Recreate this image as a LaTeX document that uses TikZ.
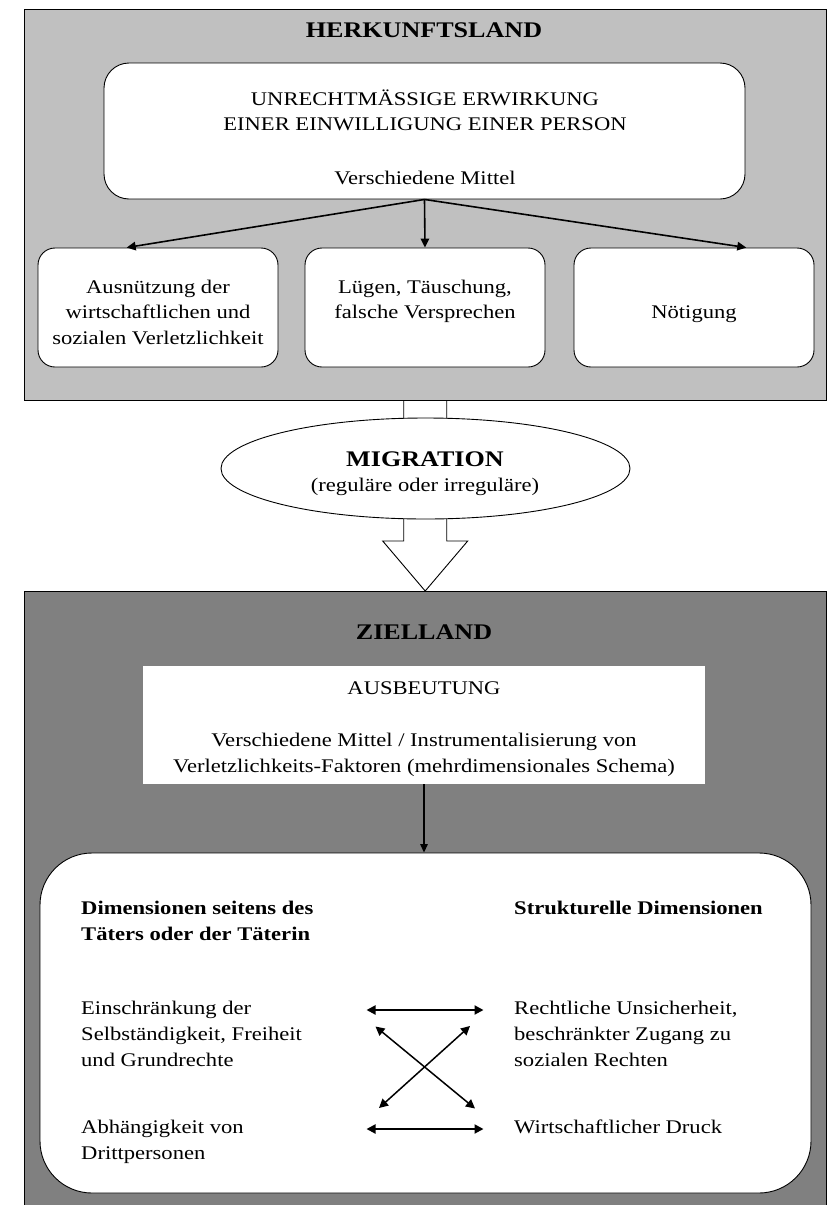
\documentclass[tikz,border=0pt]{standalone}
\usepackage{fontspec}
\setmainfont{Liberation Serif}[FakeStretch=1.17]
\usetikzlibrary{arrows.meta,calc,shapes.geometric}

\definecolor{topgray}{RGB}{192,192,192}
\definecolor{lowgray}{RGB}{128,128,128}

% stacked lines aligned on the baseline of the first line
\newcommand\lns[2][c]{\begin{tabular}[t]{@{}#1@{}}#2\end{tabular}}
\newcommand\txtsize{\fontsize{19.3}{25.5}\selectfont}
\newcommand\ttlsize{\fontsize{22.3}{26}\selectfont}

\begin{document}
\begin{tikzpicture}[x=1pt,y=-1pt,
  panel/.style={draw=black, line width=0.9pt, anchor=north west, inner sep=0pt},
  card/.style={draw=black, fill=white, line width=0.9pt, inner sep=0pt},
  txt/.style={inner sep=0pt, anchor=base, font=\txtsize},
  ttl/.style={inner sep=0pt, anchor=base, font=\ttlsize\bfseries},
  lefttxt/.style={txt, anchor=base west},
  oneway/.style={line width=1.6pt, -{Triangle[length=9pt,width=8.5pt]}},
  thinway/.style={line width=1.3pt, -{Triangle[length=8.5pt,width=7.5pt]}},
  twoway/.style={{Triangle[length=9pt,width=9pt]}-{Triangle[length=9pt,width=9pt]}}]

\useasboundingbox (0,0) rectangle (827,1205);

% ---------- country of origin ----------
\node[panel, fill=topgray, minimum width=802.5pt, minimum height=390.5pt] (herkunft) at (23.5,9) {};
\node[ttl] (herkunfttitle) at (424,37.5) {HERKUNFTSLAND};

\node[card, rounded corners=25pt, minimum width=641pt, minimum height=136pt] (unrecht) at (424.5,131) {};
\node[txt, font=\fontsize{19.3}{24.3}\selectfont] (unrechttext) at (425,105.7)
  {\lns{UNRECHTMÄSSIGE ERWIRKUNG\\EINER EINWILLIGUNG EINER PERSON}};
\node[txt] (mittel) at (425,184.5) {Verschiedene Mittel};

\node[card, rounded corners=17pt, minimum width=240pt, minimum height=119pt] (ausn) at (158,307.5) {};
\node[card, rounded corners=17pt, minimum width=240pt, minimum height=119pt] (luegen) at (425,307.5) {};
\node[card, rounded corners=17pt, minimum width=240pt, minimum height=119pt] (noet) at (694,307.5) {};

\node[txt] (ausntext) at (158,293) {\lns{Ausnützung der\\wirtschaftlichen und\\sozialen Verletzlichkeit}};
\node[txt] (luegentext) at (425,293) {\lns{Lügen, Täuschung,\\falsche Versprechen}};
\node[txt] (noettext) at (694,318.5) {Nötigung};

\draw[oneway] (unrecht.south) -- ($(ausn.north west)!0.37!(ausn.north east)$);
\draw[oneway] (unrecht.south) -- (luegen.north);
\draw[oneway] (unrecht.south) -- ($(noet.north west)!0.717!(noet.north east)$);

% ---------- destination country ----------
\node[panel, fill=lowgray, minimum width=802.5pt, minimum height=625pt] (ziel) at (23.5,591) {};

% ---------- migration block arrow ----------
\coordinate (mtop) at (herkunft.south);
\coordinate (mtip) at (ziel.north);
\draw[fill=white, line width=0.9pt]
  ($(mtop)+(-21.5,0.6)$) -- ($(mtip)+(-21.5,-50)$) -- ($(mtip)+(-42.5,-50)$) -- (mtip)
  -- ($(mtip)+(42.5,-50)$) -- ($(mtip)+(21.5,-50)$) -- ($(mtop)+(21.5,0.6)$);
\node[draw, fill=white, ellipse, line width=0.9pt, inner sep=0pt,
      minimum width=409pt, minimum height=101pt] (migration) at (425.5,468.5) {};
\node[ttl] (migrationtitle) at (425,466) {MIGRATION};
\node[txt] (migrationsub) at (425,491) {(reguläre oder irreguläre)};

\node[ttl] (zieltitle) at (424,639) {ZIELLAND};

\node[fill=white, inner sep=0pt, minimum width=562pt, minimum height=118pt] (ausb) at (424,725) {};
\node[txt] (ausbtitle) at (424,694.3) {AUSBEUTUNG};
\node[txt, font=\fontsize{19.3}{26}\selectfont] (ausbtext) at (424,746)
  {\lns{Verschiedene Mittel / Instrumentalisierung von\\Verletzlichkeits-Faktoren (mehrdimensionales Schema)}};

\node[card, rounded corners=52pt, minimum width=771pt, minimum height=340pt] (dims) at (425.5,1023) {};
\draw[thinway] (ausb.south) -- (ausb.south |- dims.north);

\node[lefttxt, font=\fontsize{19.3}{26}\selectfont\bfseries] (lefthead) at (81,914)
  {\lns[l]{Dimensionen seitens des\\Täters oder der Täterin}};
\node[lefttxt, font=\fontsize{19.3}{26}\selectfont\bfseries] (righthead) at (514,914)
  {Strukturelle Dimensionen};

\node[lefttxt, font=\fontsize{19.3}{26}\selectfont] (left1) at (81,1014)
  {\lns[l]{Einschränkung der\\Selbständigkeit, Freiheit\\und Grundrechte}};
\node[lefttxt, font=\fontsize{19.3}{26}\selectfont] (right1) at (514,1014)
  {\lns[l]{Rechtliche Unsicherheit,\\beschränkter Zugang zu\\sozialen Rechten}};
\node[lefttxt, font=\fontsize{19.3}{26}\selectfont] (left2) at (81,1133)
  {\lns[l]{Abhängigkeit von\\Drittpersonen}};
\node[lefttxt, font=\fontsize{19.3}{26}\selectfont] (right2) at (514,1133)
  {Wirtschaftlicher Druck};

% links between the two columns of dimensions
\coordinate (ta) at (366.5,1010);  \coordinate (tb) at (483.5,1010);
\coordinate (ba) at (366.5,1129);  \coordinate (bb) at (483.5,1129);
\coordinate (xa) at (375.5,1026.5);  \coordinate (xb) at (475,1108.5);
\coordinate (ya) at (470,1026);  \coordinate (yb) at (379,1108);
\draw[twoway, line width=2pt] (ta) -- (tb);
\draw[twoway, line width=2pt] (ba) -- (bb);
\draw[twoway, line width=1.5pt] (xa) -- (xb);
\draw[twoway, line width=1.5pt] (ya) -- (yb);
\end{tikzpicture}
\end{document}
